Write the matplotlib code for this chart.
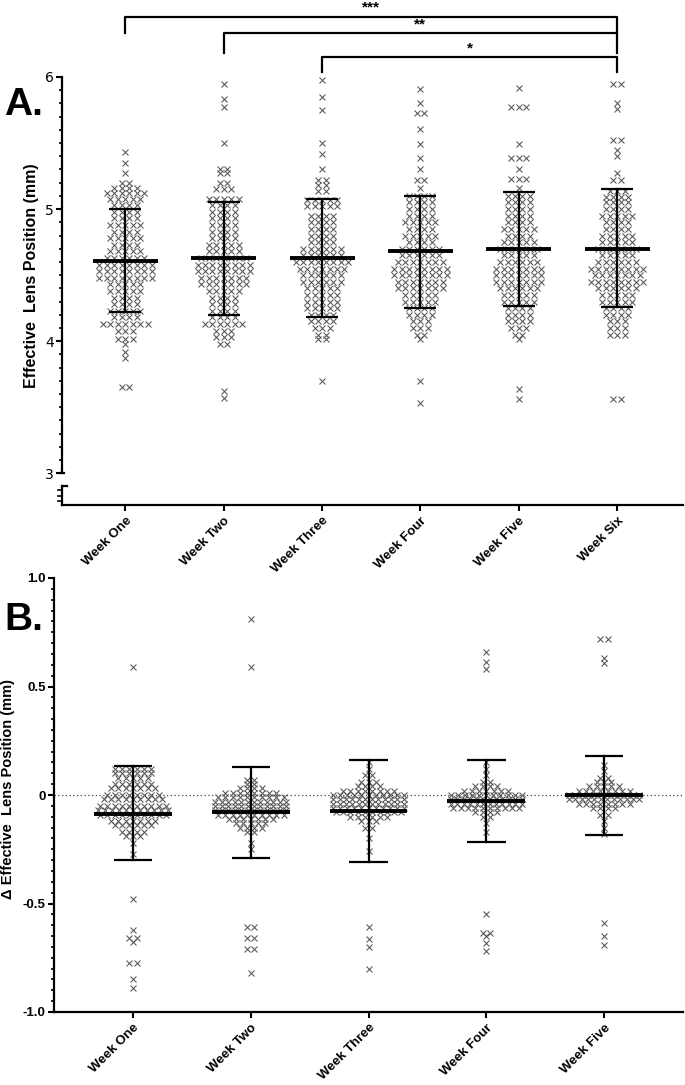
import numpy as np
import matplotlib
matplotlib.use("Agg")
import matplotlib.pyplot as plt
from matplotlib.ticker import FixedLocator

plt.rcParams['font.family'] = ['Liberation Sans', 'DejaVu Sans']

# ---- panel A data (rows of values: level, count) ----
weeks_a = ['Week One', 'Week Two', 'Week Three', 'Week Four', 'Week Five', 'Week Six']

a1_lv = [5.43, 5.35, 5.27, 5.20, 5.16, 5.12, 5.08, 5.03, 4.98, 4.93, 4.88, 4.83, 4.78, 4.73, 4.68, 4.63,
         4.58, 4.53, 4.48, 4.43, 4.38, 4.33, 4.28, 4.23, 4.18, 4.13, 4.08, 4.02, 3.98, 3.92, 3.87, 3.65]
a1_n = [1, 1, 1, 2, 4, 6, 5, 4, 4, 4, 5, 4, 5, 4, 5, 6, 8, 8, 8, 5, 5, 4, 4, 5, 4, 7, 3, 3, 1, 1, 1, 2]

a2_lv = [5.95, 5.83, 5.77, 5.50, 5.30, 5.27, 5.20, 5.15, 5.08, 5.03, 4.98, 4.93, 4.88, 4.83, 4.78, 4.73,
         4.68, 4.63, 4.58, 4.53, 4.48, 4.43, 4.38, 4.33, 4.28, 4.23, 4.18, 4.13, 4.08, 4.03, 3.98, 3.62, 3.57]
a2_n = [1, 1, 1, 1, 2, 2, 2, 3, 5, 4, 4, 4, 4, 4, 4, 5, 5, 7, 8, 8, 7, 7, 5, 4, 4, 4, 4, 6, 3, 3, 2, 1, 1]

a3_lv = [5.98, 5.85, 5.75, 5.50, 5.42, 5.30, 5.22, 5.18, 5.14, 5.07, 5.02, 4.95, 4.90, 4.85, 4.80, 4.75,
         4.70, 4.65, 4.60, 4.55, 4.50, 4.45, 4.40, 4.35, 4.30, 4.25, 4.20, 4.15, 4.10, 4.05, 4.02, 3.70]
a3_n = [1, 1, 1, 1, 1, 1, 2, 2, 2, 5, 5, 4, 4, 4, 4, 4, 6, 6, 8, 7, 6, 6, 5, 5, 5, 5, 4, 4, 3, 2, 2, 1]

a4_lv = [5.91, 5.80, 5.73, 5.61, 5.49, 5.39, 5.30, 5.22, 5.16, 5.10, 5.05, 5.00, 4.95, 4.90, 4.85, 4.80,
         4.75, 4.70, 4.65, 4.60, 4.55, 4.50, 4.45, 4.40, 4.35, 4.30, 4.25, 4.20, 4.15, 4.10, 4.05, 4.02,
         3.70, 3.53]
a4_n = [1, 1, 2, 1, 1, 1, 1, 2, 1, 4, 4, 4, 4, 5, 4, 5, 4, 6, 6, 7, 8, 8, 7, 7, 5, 5, 4, 4, 3, 3, 2, 1, 1, 1]

a5_lv = [5.92, 5.77, 5.49, 5.39, 5.30, 5.23, 5.16, 5.10, 5.05, 5.00, 4.95, 4.90, 4.85, 4.80, 4.75, 4.70,
         4.65, 4.60, 4.55, 4.50, 4.45, 4.40, 4.35, 4.30, 4.25, 4.20, 4.15, 4.10, 4.05, 4.02, 3.64, 3.56]
a5_n = [1, 3, 1, 3, 1, 3, 1, 4, 4, 4, 4, 4, 5, 4, 5, 6, 5, 6, 7, 7, 7, 6, 5, 5, 4, 4, 4, 3, 2, 1, 1, 1]

a6_lv = [5.95, 5.80, 5.76, 5.52, 5.45, 5.40, 5.27, 5.22, 5.14, 5.09, 5.05, 5.00, 4.95, 4.90, 4.85, 4.80,
         4.75, 4.70, 4.65, 4.60, 4.55, 4.50, 4.45, 4.40, 4.35, 4.30, 4.25, 4.20, 4.15, 4.10, 4.05, 3.56]
a6_n = [2, 1, 1, 2, 1, 1, 1, 2, 3, 4, 4, 4, 5, 4, 4, 5, 5, 6, 5, 6, 8, 7, 8, 6, 5, 5, 4, 4, 3, 3, 3, 2]

a_mean = [4.61, 4.63, 4.63, 4.68, 4.70, 4.70]
a_sd_hi = [5.00, 5.05, 5.08, 5.10, 5.13, 5.15]
a_sd_lo = [4.22, 4.20, 4.18, 4.25, 4.27, 4.26]

# significance brackets: (from group, to group, label)
sig_from = [0, 1, 2]
sig_to = [5, 5, 5]
sig_text = ['***', '**', '*']

# ---- panel B data ----
weeks_b = ['Week One', 'Week Two', 'Week Three', 'Week Four', 'Week Five']

b1_lv = [0.59, 0.12, 0.10, 0.08, 0.05, 0.03, 0.0, -0.02, -0.05, -0.07, -0.09, -0.12, -0.14, -0.17,
         -0.19, -0.22, -0.27, -0.48, -0.62, -0.657, -0.677, -0.772, -0.849, -0.888]
b1_n = [1, 6, 6, 5, 6, 7, 8, 9, 10, 11, 10, 7, 6, 4, 3, 1, 1, 1, 1, 2, 1, 2, 1, 1]

b2_lv = [0.81, 0.59, 0.07, 0.05, 0.03, 0.01, -0.01, -0.03, -0.05, -0.07, -0.09, -0.11, -0.13, -0.15,
         -0.17, -0.22, -0.25, -0.61, -0.657, -0.711, -0.82]
b2_n = [1, 1, 2, 2, 4, 8, 10, 12, 12, 12, 10, 7, 5, 4, 2, 1, 1, 2, 2, 2, 1]

b3_lv = [0.15, 0.12, 0.09, 0.06, 0.04, 0.02, 0.0, -0.02, -0.04, -0.06, -0.08, -0.10, -0.12, -0.15,
         -0.20, -0.26, -0.61, -0.665, -0.70, -0.80]
b3_n = [1, 1, 2, 3, 4, 8, 11, 12, 12, 11, 10, 6, 3, 2, 1, 1, 1, 1, 1, 1]

b4_lv = [0.66, 0.613, 0.58, 0.15, 0.12, 0.09, 0.06, 0.04, 0.02, 0.0, -0.02, -0.04, -0.06, -0.08,
         -0.10, -0.13, -0.17, -0.55, -0.634, -0.65, -0.68, -0.72]
b4_n = [1, 1, 1, 1, 1, 1, 2, 4, 7, 11, 12, 12, 10, 4, 2, 1, 1, 1, 2, 1, 1, 1]

b5_lv = [0.718, 0.63, 0.61, 0.14, 0.11, 0.08, 0.06, 0.04, 0.02, 0.0, -0.02, -0.04, -0.06, -0.09,
         -0.12, -0.15, -0.18, -0.59, -0.65, -0.69]
b5_n = [2, 1, 1, 1, 1, 2, 3, 5, 8, 12, 12, 8, 4, 2, 1, 1, 1, 1, 1, 1]

b_mean = [-0.086, -0.080, -0.072, -0.026, -0.001]
b_sd_hi = [0.132, 0.128, 0.16, 0.16, 0.18]
b_sd_lo = [-0.30, -0.289, -0.309, -0.215, -0.184]


def row_points(center, levels, counts, step, maxw):
    # spread each row of equal values sideways, like the column scatter in Prism
    xs, ys = [], []
    for lv, n in zip(levels, counts):
        s = min(step, maxw / max(n - 1, 1))
        off = (np.arange(n) - (n - 1) / 2.0) * s
        xs.extend(center + off)
        ys.extend([lv] * n)
    return xs, ys


def mean_sd(ax, x, m, hi, lo, mw=0.33, cw=0.163):
    ax.plot([x - mw, x + mw], [m, m], color='black', lw=2.8, solid_capstyle='butt', zorder=4)
    ax.plot([x, x], [lo, hi], color='black', lw=1.6, zorder=4)
    ax.plot([x - cw, x + cw], [hi, hi], color='black', lw=1.6, solid_capstyle='butt', zorder=4)
    ax.plot([x - cw, x + cw], [lo, lo], color='black', lw=1.6, solid_capstyle='butt', zorder=4)


mk = dict(marker='x', linestyle='none', color='#555555', markersize=4.4, markeredgewidth=0.75, zorder=3)

fig = plt.figure(figsize=(6.85, 10.85), dpi=100)

# ================= panel A =================
axA = fig.add_axes([62 / 685, 1 - 505 / 1085, 621 / 685, 428 / 1085])
a_groups = [(a1_lv, a1_n), (a2_lv, a2_n), (a3_lv, a3_n), (a4_lv, a4_n), (a5_lv, a5_n), (a6_lv, a6_n)]
for i, (lv, n) in enumerate(a_groups):
    xs, ys = row_points(i, lv, n, 0.076, 0.62)
    axA.plot(xs, ys, **mk)
    mean_sd(axA, i, a_mean[i], a_sd_hi[i], a_sd_lo[i])

axA.set_xlim(-0.644, 5.67)
axA.set_ylim(2.76, 6.0)
axA.spines['top'].set_visible(False)
axA.spines['right'].set_visible(False)
axA.spines['left'].set_bounds(3, 6)
axA.spines['left'].set_linewidth(1.6)
axA.spines['bottom'].set_linewidth(1.6)
axA.set_yticks([3, 4, 5, 6])
axA.yaxis.set_minor_locator(FixedLocator([v / 10 for v in range(31, 60) if v % 10]))
axA.set_yticklabels(['3', '4', '5', '6'], fontsize=10, family=['Liberation Sans Narrow', 'DejaVu Sans'])
axA.tick_params(axis='y', which='major', length=4, width=1.5, pad=2)
axA.tick_params(axis='y', which='minor', length=2.5, width=1.2)
axA.set_xticks(range(len(weeks_a)))
axA.set_xticklabels(weeks_a, rotation=45, ha='right', va='top', rotation_mode='anchor',
                    fontsize=9.5, fontweight='bold')
axA.tick_params(axis='x', length=4, width=1.5, pad=3)

# axis break: short lower segment of the y axis
yt = axA.get_yaxis_transform()
axA.plot([0, 0], [2.76, 2.905], transform=yt, color='black', lw=1.6, clip_on=False)
axA.plot([0, 0.008], [2.905, 2.905], transform=yt, color='black', lw=1.6, clip_on=False)
for v in [2.79, 2.83, 2.87]:
    axA.plot([-0.006, 0], [v, v], transform=yt, color='black', lw=1.2, clip_on=False)
axA.plot([-0.004, 0.004], [3, 3], transform=yt, color='black', lw=1.6, clip_on=False)

axA.set_ylabel('Effective  Lens Position (mm)', fontsize=11.5, fontweight='bold')
axA.yaxis.set_label_coords(-0.037, 0.535)

# significance brackets
line_y = [6.455, 6.333, 6.15]
leg_y = [6.33, 6.18, 6.04]
for k in range(3):
    x0, x1 = sig_from[k], sig_to[k]
    axA.plot([x0, x0, x1, x1], [leg_y[k], line_y[k], line_y[k], leg_y[k]], color='black', lw=1.6,
             clip_on=False)
    axA.text((x0 + x1) / 2, line_y[k] + 0.015, sig_text[k], ha='center', va='bottom', fontsize=11,
             fontweight='bold')

fig.text(4 / 685, 1 - 105 / 1085, 'A.', fontsize=28, fontweight='bold', va='center', ha='left')

# ================= panel B =================
axB = fig.add_axes([54 / 685, 1 - 1012 / 1085, 629 / 685, 434 / 1085])
b_groups = [(b1_lv, b1_n), (b2_lv, b2_n), (b3_lv, b3_n), (b4_lv, b4_n), (b5_lv, b5_n)]
axB.axhline(0, color='#444444', lw=0.9, linestyle=(0, (1, 2)), zorder=1)
for i, (lv, n) in enumerate(b_groups):
    xs, ys = row_points(i, lv, n, 0.062, 0.6)
    axB.plot(xs, ys, **mk)
    mean_sd(axB, i, b_mean[i], b_sd_hi[i], b_sd_lo[i])

axB.set_xlim(-0.671, 4.67)
axB.set_ylim(-1.0, 1.0)
axB.spines['top'].set_visible(False)
axB.spines['right'].set_visible(False)
axB.spines['left'].set_linewidth(1.6)
axB.spines['bottom'].set_linewidth(1.6)
axB.set_yticks([-1.0, -0.5, 0, 0.5, 1.0])
axB.set_yticklabels(['-1.0', '-0.5', '0', '0.5', '1.0'], fontsize=9.5, fontweight='bold')
axB.yaxis.set_minor_locator(FixedLocator([v / 20 for v in range(-19, 20) if v % 10]))
axB.tick_params(axis='y', which='major', length=4, width=1.5, pad=2)
axB.tick_params(axis='y', which='minor', length=2.5, width=1.2)
axB.set_xticks(range(len(weeks_b)))
axB.set_xticklabels(weeks_b, rotation=45, ha='right', va='top', rotation_mode='anchor',
                    fontsize=9.5, fontweight='bold')
axB.tick_params(axis='x', length=4, width=1.5, pad=3)
axB.set_ylabel('\u0394 Effective  Lens Position (mm)', fontsize=10.5, fontweight='bold')
axB.yaxis.set_label_coords(-0.062, 0.514)

fig.text(4 / 685, 1 - 620 / 1085, 'B.', fontsize=28, fontweight='bold', va='center', ha='left')

fig.savefig('out.png', dpi=100)
